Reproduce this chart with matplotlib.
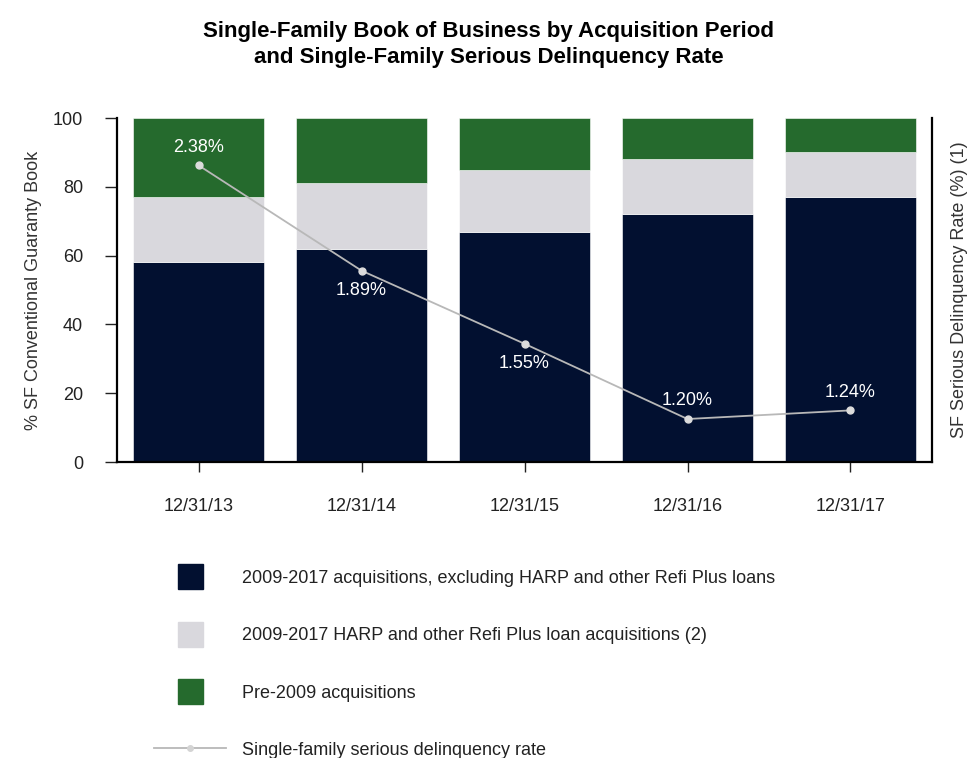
import numpy as np
import matplotlib
matplotlib.use("Agg")
import matplotlib.pyplot as plt
import matplotlib.patches as mpatches
from matplotlib.lines import Line2D
from matplotlib.legend_handler import HandlerPatch

plt.rcParams['font.family'] = ['Liberation Sans', 'DejaVu Sans']

# data
periods = ['12/31/13', '12/31/14', '12/31/15', '12/31/16', '12/31/17']
new_excl_harp = [58, 62, 67, 72, 77]      # 2009-2017 excl. HARP / Refi Plus
harp_refi = [19, 19, 18, 16, 13]          # 2009-2017 HARP and Refi Plus
pre_2009 = [23, 19, 15, 12, 10]           # pre-2009
sdq_rate = [2.38, 1.89, 1.55, 1.20, 1.24]  # serious delinquency rate (%)
label_above = [True, False, False, True, True]

navy = '#021030'
lgray = '#d9d8dd'
green = '#256a2d'
line_col = '#b8b8b8'

fig = plt.figure(figsize=(9.68, 7.58), dpi=100)
ax = fig.add_axes([0.1209, 0.3905, 0.8419, 0.4538])

x = np.arange(len(periods))
w = 0.8
ax.bar(x, new_excl_harp, w, color=navy, edgecolor='white', linewidth=0.4)
ax.bar(x, harp_refi, w, bottom=new_excl_harp, color=lgray, edgecolor='white', linewidth=0.4)
bottom3 = np.array(new_excl_harp) + np.array(harp_refi)
ax.bar(x, pre_2009, w, bottom=bottom3, color=green, edgecolor='white', linewidth=0.4)

ax.set_xlim(-0.5, 4.5)
ax.set_ylim(0, 100)
ax.set_yticks([0, 20, 40, 60, 80, 100])
ax.set_xticks(x)
ax.set_xticklabels(periods)
ax.tick_params(axis='y', length=8.5, width=1, pad=16, labelsize=13, colors='#222222')
ax.tick_params(axis='x', length=7, width=1, pad=19, labelsize=13, colors='#222222')
ax.spines['top'].set_visible(False)
ax.spines['right'].set_visible(False)
ax.spines['left'].set_linewidth(1.6)
ax.spines['bottom'].set_linewidth(1.6)
ax.set_ylabel('% SF Conventional Guaranty Book', fontsize=13, color='#333333', labelpad=8)

ax2 = ax.twinx()
ax2.set_ylim(1.0, 2.6)
ax2.set_yticks([])
ax2.spines['top'].set_visible(False)
ax2.spines['left'].set_visible(False)
ax2.spines['bottom'].set_visible(False)
ax2.spines['right'].set_linewidth(1.6)
ax2.set_ylabel('SF Serious Delinquency Rate (%) (1)', fontsize=13, color='#333333', labelpad=14)

ax2.plot(x, sdq_rate, color=line_col, lw=1.3, marker='o', ms=5,
         markerfacecolor='#dcdcdc', markeredgecolor='#dcdcdc')
for xi, v, up in zip(x, sdq_rate, label_above):
    ax2.annotate(f'{v:.2f}%', (xi, v), xytext=(0, 13 if up else -14),
                 textcoords='offset points', ha='center', va='center',
                 color='white', fontsize=13)

fig.suptitle('Single-Family Book of Business by Acquisition Period\nand Single-Family Serious Delinquency Rate',
             x=0.505, y=0.972, fontsize=16, fontweight='bold', linespacing=1.3)


def square(legend, orig_handle, xdescent, ydescent, width, height, fontsize):
    s = 25 / 100 * 72
    return mpatches.Rectangle((width / 2 - s / 2 - xdescent, height / 2 - s / 2 - ydescent), s, s)


handles = [mpatches.Patch(color=navy), mpatches.Patch(color=lgray), mpatches.Patch(color=green),
           Line2D([], [], color=line_col, lw=1.3, marker='o', ms=4,
                  markerfacecolor='#d4d4d4', markeredgecolor='#d4d4d4')]
labels = ['2009-2017 acquisitions, excluding HARP and other Refi Plus loans',
          '2009-2017 HARP and other Refi Plus loan acquisitions (2)',
          'Pre-2009 acquisitions',
          'Single-family serious delinquency rate']
leg = fig.legend(handles, labels, loc='upper left', bbox_to_anchor=(0.159, 0.2497),
                 frameon=False, fontsize=13, handlelength=4.0, handleheight=1.0,
                 handletextpad=0.89, labelspacing=2.16, borderpad=0, borderaxespad=0,
                 handler_map={mpatches.Patch: HandlerPatch(patch_func=square)})
for t in leg.get_texts():
    t.set_color('#222222')

fig.savefig('out.png', dpi=100)
